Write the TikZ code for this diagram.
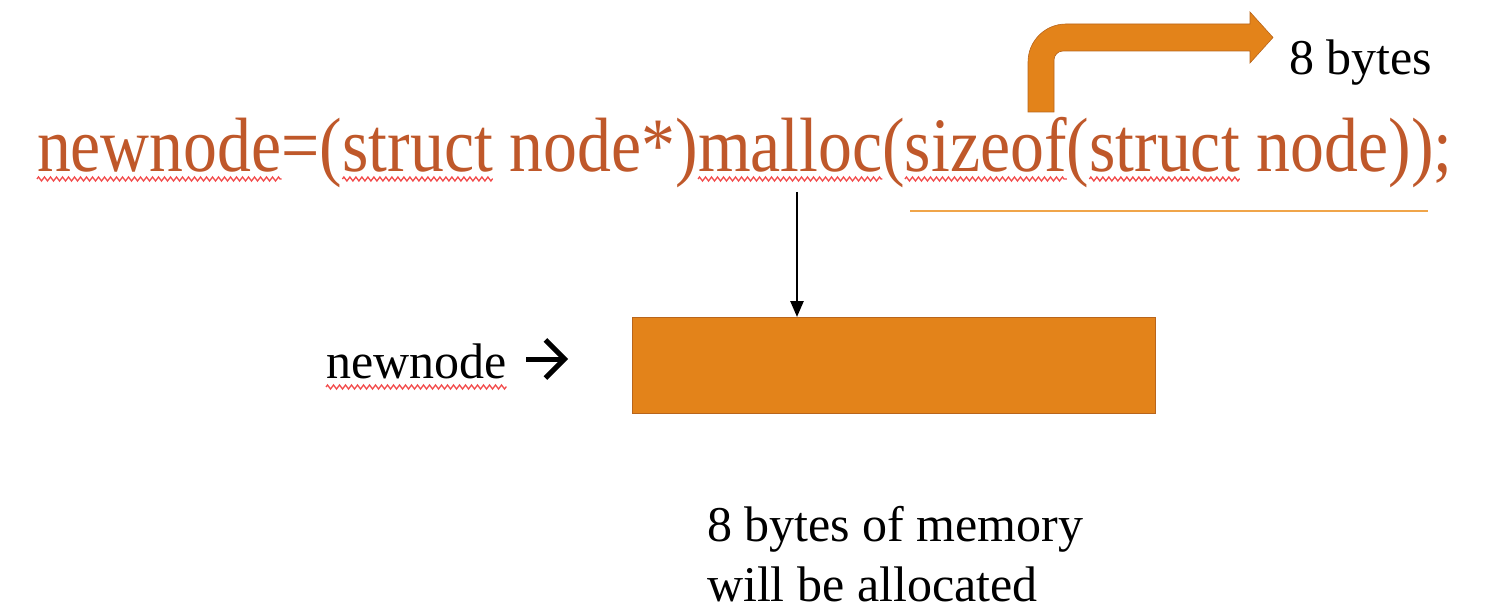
\documentclass[tikz,border=0pt]{standalone}
\usepackage{fontspec}
\setmainfont{Liberation Serif}
\newfontfamily\codefont[FakeStretch=0.88]{Liberation Serif}
\usetikzlibrary{arrows.meta,decorations.pathmorphing}
\definecolor{codebrown}{HTML}{BF582A}
\definecolor{boxorange}{HTML}{E3831A}
\definecolor{boxedge}{HTML}{B8651C}
\definecolor{lineorange}{HTML}{F0A54A}
\definecolor{squiggle}{HTML}{F24A4A}
\begin{document}
\begin{tikzpicture}[x=1pt,y=-1pt,
  code/.style={inner sep=0pt, outer sep=0pt, anchor=base west,
    font=\codefont\fontsize{77}{80}\selectfont, text=codebrown},
  plain/.style={inner sep=0pt, outer sep=0pt,
    font=\fontsize{50}{60}\selectfont},
  spell/.style={draw=squiggle, line width=1.3pt, decorate,
    decoration={zigzag, amplitude=2pt, segment length=6pt}},
  memblock/.style={fill=boxorange, draw=boxedge, line width=0.8pt},
  pointer/.style={line width=2.6pt, -{Triangle[length=16pt,width=13pt]}}
]
\useasboundingbox (0,0) rectangle (1495,612);

% the C statement, one piece at a time so words can be marked
\node[code] (w1) at (37,172) {newnode};
\node[code] (w2) at (w1.base east) {=(};
\node[code] (w3) at (w2.base east) {struct};
\node[code] (w4) at (w3.base east) {~node*)};
\node[code] (w5) at (w4.base east) {malloc};
\node[code] (w6) at (w5.base east) {(};
\node[code] (w7) at (w6.base east) {sizeof};
\node[code] (w8) at (w7.base east) {(};
\node[code] (w9) at (w8.base east) {struct};
\node[code] (w10) at (w9.base east) {~node));};

% spell-check marks
\foreach \w in {w1,w3,w5,w7,w9}
  \draw[spell] ([yshift=-7pt]\w.base west) -- ([yshift=-7pt]\w.base east);

% underline of the sizeof part
\coordinate (ulA) at (910,211);
\coordinate (ulB) at (1428,211);
\draw[lineorange, line width=2pt] (ulA) -- (ulB);

% bent arrow to the size
\fill[boxorange, draw=boxedge, line width=0.6pt]
  (1028,112) [rounded corners=38pt] -- (1028,24) -- (1120,24)
  [sharp corners] -- (1250,24) -- (1250,12) -- (1273,37.5) -- (1250,63)
  -- (1250,51) -- (1120,51)
  [rounded corners=9pt] -- (1054,51) -- (1054,80)
  [sharp corners] -- (1054,112) -- cycle;
\node[plain, anchor=base west] (size) at (1289,75) {8 bytes};

% allocated block
\node[memblock, minimum width=523pt, minimum height=96pt, anchor=north west]
  (block) at (632,317) {};

% arrow from malloc down to the block
\coordinate (mtop) at (797,192);
\draw[pointer] (mtop) -- (mtop |- block.north);

% pointer label
\node[plain, anchor=base west] (ptr) at (326,378) {newnode};
\draw[spell] ([yshift=-9pt]ptr.base west) -- ([yshift=-9pt]ptr.base east);
\coordinate (pa) at (526,359);
\coordinate (pb) at (568,359);
\draw[line width=5pt, -{Straight Barb[length=19pt,width=38pt,line width=5pt]}] (pa) -- (pb);

% explanation
\node[plain, anchor=north west, align=left] (note) at (707,506)
  {8 bytes of memory\\will be allocated};
\end{tikzpicture}
\end{document}
